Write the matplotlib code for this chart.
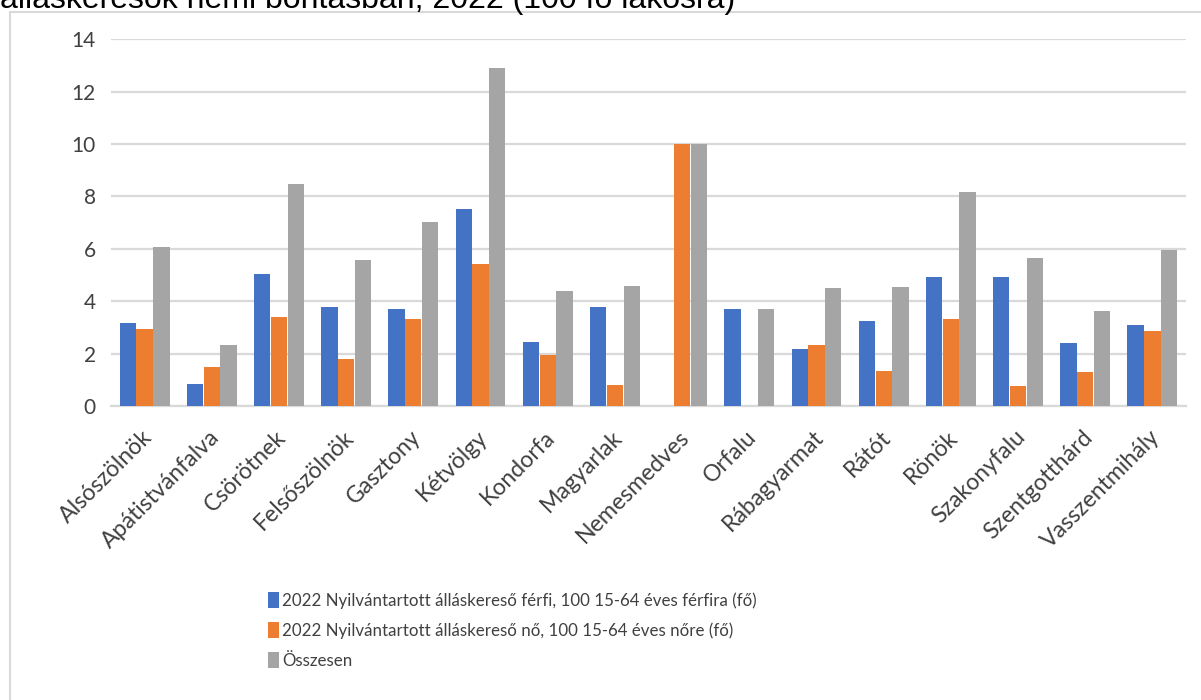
import matplotlib
matplotlib.use("Agg")
import matplotlib.pyplot as plt
import matplotlib.transforms as mtransforms
import numpy as np
from matplotlib.patches import Rectangle

settlements = [
    "Alsószölnök", "Apátistvánfalva", "Csörötnek", "Felsőszölnök", "Gasztony",
    "Kétvölgy", "Kondorfa", "Magyarlak", "Nemesmedves", "Orfalu",
    "Rábagyarmat", "Rátót", "Rönök", "Szakonyfalu", "Szentgotthárd",
    "Vasszentmihály",
]
men = [3.16, 0.84, 5.04, 3.79, 3.69, 7.52, 2.45, 3.79, 0.0, 3.69,
       2.18, 3.24, 4.91, 4.91, 2.39, 3.09]
women = [2.94, 1.50, 3.41, 1.78, 3.31, 5.41, 1.95, 0.80, 10.0, 0.0,
         2.33, 1.34, 3.31, 0.78, 1.29, 2.87]
total = [6.08, 2.33, 8.46, 5.57, 7.01, 12.91, 4.39, 4.58, 10.0, 3.69,
         4.49, 4.55, 8.18, 5.66, 3.64, 5.95]
series_labels = [
    "2022 Nyilvántartott álláskereső férfi, 100 15-64 éves férfira (fő)",
    "2022 Nyilvántartott álláskereső nő, 100 15-64 éves nőre (fő)",
    "Összesen",
]
y_ticks = [0, 2, 4, 6, 8, 10, 12, 14]
title_text = "álláskeresők nemi bontásban, 2022 (100 fő lakosra)"

colors = ["#4472C4", "#ED7D31", "#A5A5A5"]
grid_color = "#D9D9D9"
label_color = "#404040"

plt.rcParams["font.family"] = ["Lato", "DejaVu Sans"]

W, H = 1201, 700
fig = plt.figure(figsize=(W / 100, H / 100), dpi=100)

# outer chart frame
fig.patches.append(Rectangle((10 / W, -0.01), 1.2, 1 - 12 / H + 0.01,
                             transform=fig.transFigure, fill=False,
                             edgecolor=grid_color, linewidth=1.5))

# heading above the frame, running off the top edge
fig.text(0 / W, 1 - 8 / H, title_text, fontsize=23,
         family=["Liberation Sans", "DejaVu Sans"], color="#000000",
         ha="left", va="baseline")

ax = fig.add_axes([111 / W, 1 - 406 / H, (1186 - 111) / W, (406 - 39.3) / H])

x = np.arange(len(settlements))
bw = 0.25
for i, (vals, col, lab) in enumerate(zip([men, women, total], colors, series_labels)):
    ax.bar(x + (i - 1) * bw, vals, width=bw * 0.97, color=col, label=lab, zorder=3)

ax.set_xlim(-0.5, len(settlements) - 0.5)
ax.set_ylim(0, 14)
ax.set_yticks(y_ticks)
ax.set_yticklabels([str(t) for t in y_ticks], fontsize=15, color=label_color)
ax.yaxis.grid(True, color=grid_color, linewidth=1.6, zorder=0)
ax.set_axisbelow(True)
for s in ["top", "right", "left"]:
    ax.spines[s].set_visible(False)
ax.spines["bottom"].set_color(grid_color)
ax.spines["bottom"].set_linewidth(1.6)
ax.tick_params(axis="y", length=0, pad=11)
ax.tick_params(axis="x", length=0, pad=20)

ax.set_xticks(x)
ax.set_xticklabels(settlements, fontsize=16.6, color=label_color,
                   rotation=45, ha="right", va="center", rotation_mode="anchor")
shift = mtransforms.ScaledTranslation(4 / 100, 0, fig.dpi_scale_trans)
for lbl in ax.get_xticklabels():
    lbl.set_transform(lbl.get_transform() + shift)

handles, labels = ax.get_legend_handles_labels()
leg = fig.legend(handles, labels, loc="upper left",
                 bbox_to_anchor=(268 / W, 1 - 592 / H), frameon=False,
                 fontsize=12.2, handlelength=0.65, handleheight=1.05,
                 handletextpad=0.2, labelspacing=0.8, borderaxespad=0,
                 borderpad=0)
for t in leg.get_texts():
    t.set_color(label_color)

fig.savefig("out.png", dpi=100)
